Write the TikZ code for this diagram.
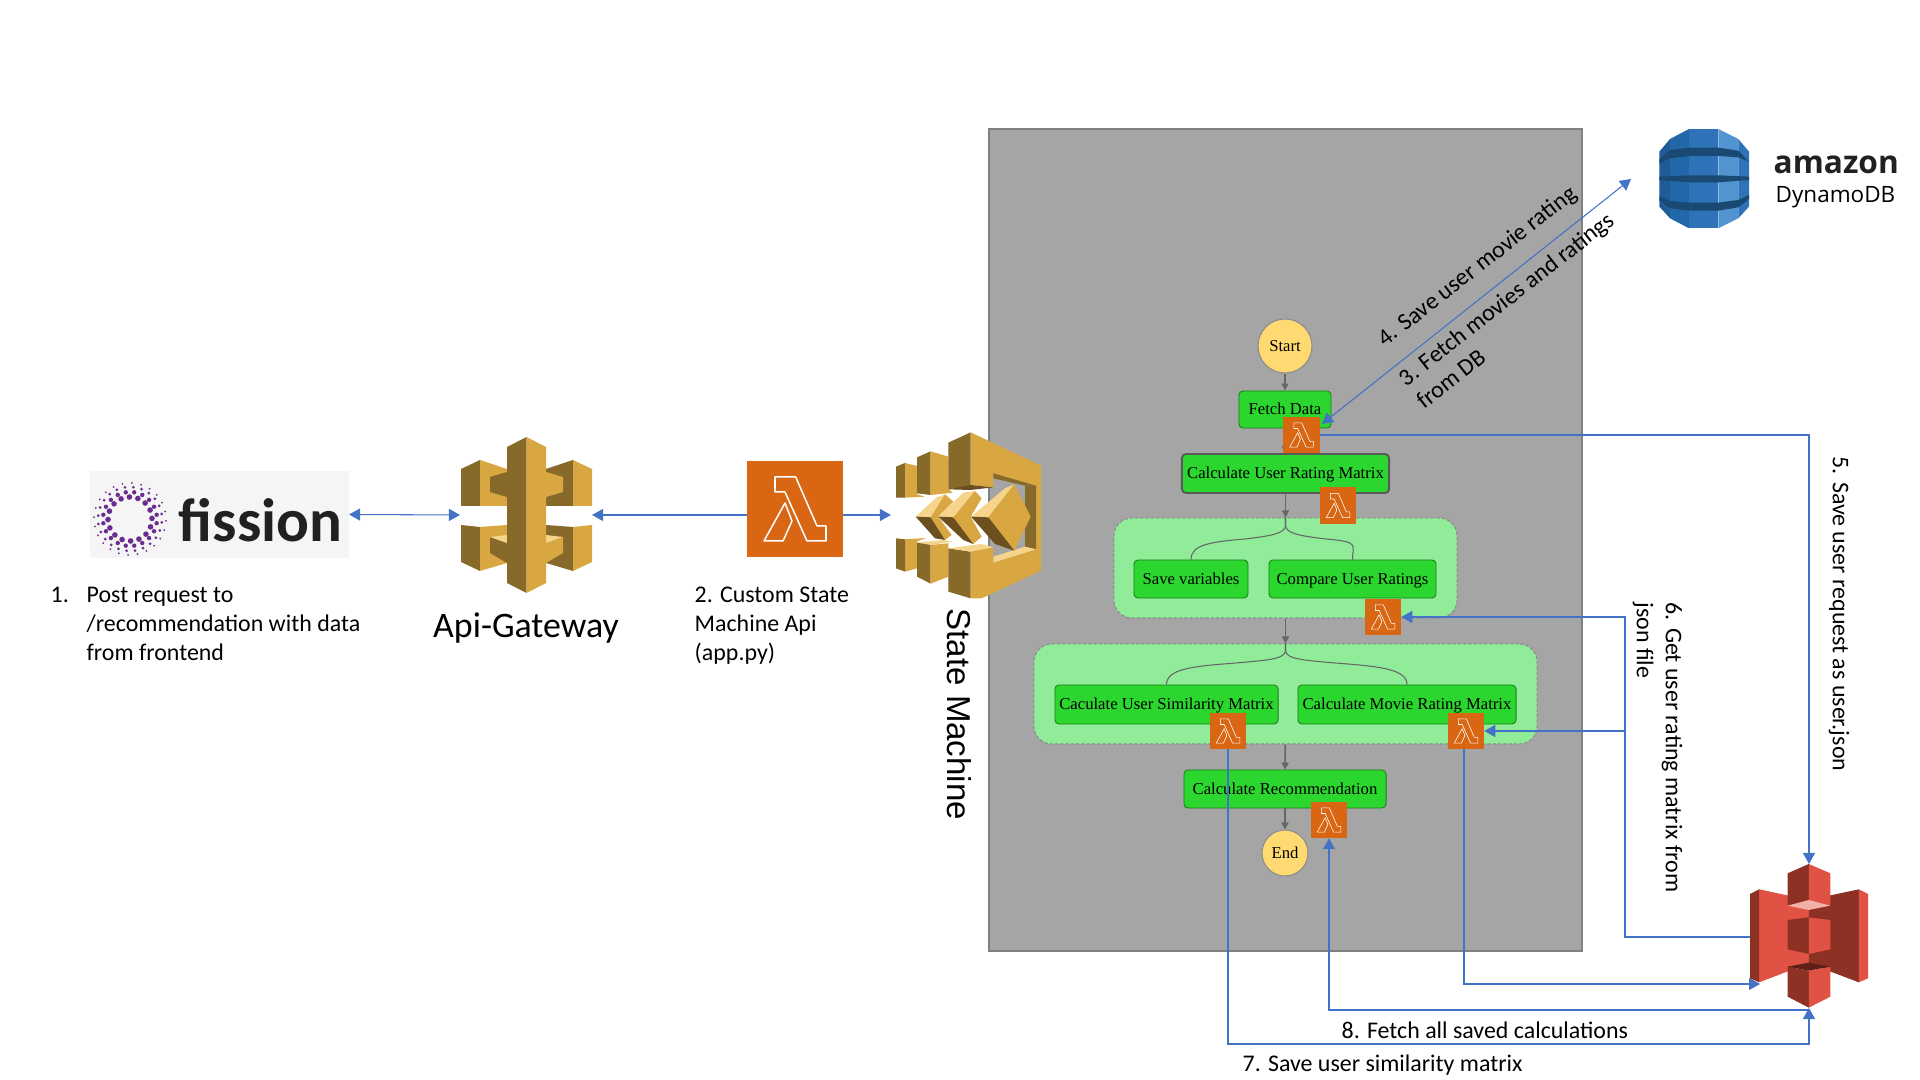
\documentclass[tikz,border=0pt]{standalone}
\usepackage{fontspec}
\setmainfont{Carlito}
\newfontfamily\serffont{Liberation Serif}
\newfontfamily\helvfont{Liberation Sans}
\newfontfamily\logofont{Open Sans}
\usetikzlibrary{arrows.meta}

\definecolor{arrowblue}{HTML}{4472C4}
\definecolor{lambdaorange}{HTML}{D96613}
\definecolor{panelgrey}{HTML}{A5A5A5}
\definecolor{stategreen}{HTML}{2BD62F}
\definecolor{groupgreen}{HTML}{90EC98}
\definecolor{circleyellow}{HTML}{FFD972}
\definecolor{goldlight}{HTML}{D9A741}
\definecolor{golddark}{HTML}{876929}
\definecolor{goldtop}{HTML}{F7D48B}
\definecolor{goldshade}{HTML}{6B4F1E}
\definecolor{s3light}{HTML}{E05243}
\definecolor{s3dark}{HTML}{8C3123}
\definecolor{s3top}{HTML}{F2B0A9}
\definecolor{s3shade}{HTML}{5E1F18}
\definecolor{dbband}{HTML}{1A4A73}
\definecolor{dbedge}{HTML}{1F5B98}
\definecolor{dbleft}{HTML}{2268A9}
\definecolor{dbmid}{HTML}{2E73B8}
\definecolor{dbright}{HTML}{5294CF}
\definecolor{fissionpurple}{HTML}{6A2C91}

\tikzset{
    iconbox/.style={inner sep=0pt, outer sep=0pt},
    flow/.style={draw=arrowblue, line width=0.3pt, -{Triangle[length=0.11cm,width=0.12cm]}},
    flowboth/.style={flow, {Triangle[length=0.11cm,width=0.12cm]}-{Triangle[length=0.11cm,width=0.12cm]}},
    greyflow/.style={draw=black!60, line width=0.45pt, -{Triangle[length=0.07cm,width=0.07cm]}},
    fork/.style={draw=black!60, line width=0.3pt},
    stepnode/.style={draw=black!40!stategreen, fill=stategreen, rounded corners=0.04cm, line width=0.25pt,
        inner sep=0pt, text height=3.6pt, text depth=0.5pt, font=\serffont\fontsize{4.74}{5}\selectfont},
    groupbox/.style={draw=black!45, dashed, dash pattern=on 1pt off 0.5pt, fill=groupgreen, rounded corners=0.18cm,
        line width=0.3pt, inner sep=0pt},
    endpoint/.style={circle, draw=black!45, fill=circleyellow, line width=0.3pt, inner sep=0pt,
        font=\serffont\fontsize{4.74}{5}\selectfont},
    label/.style={inner sep=0pt, align=left, font=\fontsize{6.8}{8.25}\selectfont},
}

% lambda icon: name, x, y, size
\newcommand{\lambdabox}[4]{
    \node[iconbox, fill=lambdaorange, minimum size=#4*0.01cm] (#1) at (#2,#3) {};
    \begin{scope}[shift={(#1.center)}, scale=#4/96, draw=white, line width=#4*0.0045pt, line join=round]
        \draw (-20,-32) -- (0.7,-32) -- (22,17) -- (31,17) -- (31,32) -- (12,32) -- (-10,-17) -- (-20,-17) -- cycle;
        \draw (-10,-6) -- (-31,32) -- (-12,32) -- (-3,12) -- cycle;
    \end{scope}
}

\begin{document}
\begin{tikzpicture}[x=0.01cm, y=-0.01cm]
    \useasboundingbox (0,0) rectangle (1920,1080);

    % fission logo
    \node[iconbox, fill=black!4, minimum width=2.59cm, minimum height=0.87cm] (fission) at (219.5,514.5) {};
    \begin{scope}[shift={(130,519)}]
        \foreach \rad/\cnt/\sz in {22/16/2.8, 27/20/2.2, 32/24/1.5, 36/24/1}
            \foreach \k in {1,...,\cnt}
                \fill[fissionpurple] ({\k*360/\cnt+\rad*3}:\rad) circle[radius=\sz];
    \end{scope}
    \node[anchor=base west, inner sep=0pt, text=black!87, font=\bfseries\fontsize{17.4}{17.4}\selectfont] (fissiontext) at (178,542) {fission};

    % api gateway icon
    \node[iconbox, minimum width=1.32cm, minimum height=1.56cm] (gateway) at (526,515) {};
    \fill[golddark] (461,469) -- (480,460) -- (480,506) -- (461,506) -- cycle;
    \fill[goldlight] (480,460) -- (507,469) -- (507,506) -- (480,506) -- cycle;
    \fill[golddark] (490,477) -- (507,472) -- (507,497) -- (490,492) -- cycle;
    \fill[golddark] (546,469) -- (573,460) -- (573,506) -- (546,506) -- cycle;
    \fill[goldlight] (573,460) -- (592,469) -- (592,506) -- (573,506) -- cycle;
    \fill[goldlight] (546,472) -- (563,477) -- (563,492) -- (546,497) -- cycle;
    \fill[golddark] (461,525) -- (480,527) -- (480,571) -- (461,562) -- cycle;
    \fill[goldlight] (480,527) -- (507,525) -- (507,563) -- (480,571) -- cycle;
    \fill[golddark] (490,537) -- (507,543) -- (507,563) -- (490,553) -- cycle;
    \fill[goldtop] (490,537) -- (507,535) -- (507,543) -- cycle;
    \fill[golddark] (546,525) -- (573,527) -- (573,571) -- (546,563) -- cycle;
    \fill[goldlight] (573,527) -- (592,525) -- (592,562) -- (573,571) -- cycle;
    \fill[goldlight] (546,543) -- (563,537) -- (563,553) -- (546,563) -- cycle;
    \fill[goldtop] (546,535) -- (563,537) -- (546,543) -- cycle;
    \fill[golddark] (507,447) -- (526.5,437) -- (526.5,593) -- (507,583) -- cycle;
    \fill[goldlight] (526.5,437) -- (546,447) -- (546,583) -- (526.5,593) -- cycle;

    \lambdabox{apilambda}{795}{509}{96}

    % state machine panel
    \node[iconbox, draw=black!50, fill=panelgrey, line width=0.55pt, minimum width=5.93cm, minimum height=8.22cm] (panel) at (1285.5,540) {};

    % state machine icon
    \node[iconbox, minimum width=1.5cm, minimum height=1.66cm] (machine) at (966,515) {};
    \begin{scope}[shift={(680,400)}, scale=1/3]
        \fill[golddark] (648,200) -- (675,189) -- (675,293) -- (648,293) -- cycle;
        \fill[goldlight] (675,189) -- (711,198) -- (711,283) -- (735,290) -- (675,293) -- cycle;
        \fill[goldlight] (675,418) -- (738,414) -- (711,424) -- (711,505) -- (675,515) -- cycle;
        \fill[golddark] (648,415) -- (675,418) -- (675,515) -- (648,505) -- cycle;
        \fill[golddark] (711,172) -- (752,154) -- (752,285) -- (711,280) -- cycle;
        \fill[goldlight] (752,154) -- (805,170) -- (805,268) -- (818,278) -- (752,285) -- cycle;
        \fill[goldtop] (711,428) -- (790,420) -- (818,425) -- (752,435) -- cycle;
        \fill[golddark] (711,428) -- (752,435) -- (752,551) -- (711,530) -- cycle;
        \fill[goldlight] (752,435) -- (805,430) -- (805,530) -- (752,551) -- cycle;
        \fill[goldlight] (872,97) -- (1083,197) -- (1083,512) -- (905,595) -- (872,595) -- (872,452) -- (940,442) -- (940,488) -- (1068,448) -- (1068,257) -- (940,220) -- (940,262) -- (872,255) -- cycle;
        \fill[golddark] (940,220) -- (1068,257) -- (1035,257) -- (940,235) -- cycle;
        \fill[golddark] (1035,257) -- (1068,257) -- (1068,448) -- (1035,440) -- cycle;
        \fill[goldtop] (940,470) -- (1035,440) -- (1068,448) -- (940,488) -- cycle;
        \fill[golddark] (805,128) -- (872,97) -- (872,258) -- (805,268) -- cycle;
        \fill[goldshade] (805,268) -- (872,255) -- (940,262) -- (872,270) -- cycle;
        \fill[golddark] (805,445) -- (872,455) -- (872,595) -- (805,575) -- cycle;
        \fill[goldtop] (805,445) -- (905,432) -- (940,442) -- (872,455) -- cycle;
        \fill[goldtop] (707,350) -- (770,292) -- (795,283) -- (752,352) -- cycle;
        \fill[goldlight] (752,352) -- (795,283) -- (820,305) -- (775,350) -- (815,405) -- (795,420) -- cycle;
        \fill[goldshade] (707,350) -- (752,352) -- (795,420) -- (765,415) -- cycle;
        \fill[goldtop] (775,350) -- (850,278) -- (885,273) -- (820,352) -- cycle;
        \fill[goldlight] (820,352) -- (885,273) -- (905,295) -- (872,350) -- (905,410) -- (880,432) -- cycle;
        \fill[goldshade] (775,350) -- (820,352) -- (880,432) -- (850,420) -- cycle;
        \fill[goldtop] (873,350) -- (975,265) -- (1003,253) -- (925,352) -- cycle;
        \fill[goldlight] (925,352) -- (1003,253) -- (1052,350) -- (1003,452) -- cycle;
        \fill[goldshade] (873,350) -- (925,352) -- (1003,452) -- (945,432) -- cycle;
    \end{scope}

    % dynamodb icon
    \node[iconbox, minimum width=0.9cm, minimum height=0.99cm] (dynamo) at (1704,178.5) {};
    \begin{scope}[shift={(1600,100)}, scale=1/3]
        \fill[dbedge] (178,155) -- (210,117) -- (210,355) -- (178,320) -- cycle;
        \fill[dbleft] (210,117) -- (267,87) -- (267,385) -- (210,355) -- cycle;
        \fill[dbmid] (267,87) -- (355,87) -- (355,385) -- (267,385) -- cycle;
        \fill[dbright] (355,87) -- (415,117) -- (415,355) -- (355,385) -- cycle;
        \fill[dbmid] (415,117) -- (447,155) -- (447,320) -- (415,355) -- cycle;
        \fill[dbband] (178,178) -- (210,150) -- (267,143) -- (355,143) -- (415,152) -- (447,185) -- (415,172) -- (355,168) -- (267,168) -- (210,175) -- (178,190) -- cycle;
        \fill[dbband] (178,230) -- (267,226) -- (355,226) -- (447,230) -- (447,240) -- (355,247) -- (267,247) -- (178,240) -- cycle;
        \fill[dbband] (178,290) -- (210,303) -- (267,308) -- (355,308) -- (415,300) -- (447,285) -- (447,297) -- (415,322) -- (355,332) -- (267,332) -- (210,325) -- (178,302) -- cycle;
    \end{scope}
    \node[anchor=base west, inner sep=0pt, text=black!87, font=\logofont\bfseries\fontsize{9}{10}\selectfont] (amazon) at (1773,174) {amazon};
    \node[anchor=base west, inner sep=0pt, font=\logofont\fontsize{6.4}{7}\selectfont] (dynamotext) at (1775,203) {DynamoDB};

    % s3 icon
    \node[iconbox, minimum width=1.18cm, minimum height=1.44cm] (bucket) at (1809,936) {};
    \begin{scope}[shift={(1200,840)}, xscale=1/2.178, yscale=1/3]
        \fill[s3light] (1218,148) -- (1326,180) -- (1326,370) -- (1218,427) -- cycle;
        \fill[s3dark] (1198,162) -- (1218,148) -- (1218,427) -- (1198,415) -- cycle;
        \fill[s3dark] (1326,180) -- (1435,148) -- (1435,427) -- (1326,370) -- cycle;
        \fill[s3light] (1435,148) -- (1455,162) -- (1455,415) -- (1435,427) -- cycle;
        \fill[s3dark] (1280,100) -- (1326,72) -- (1326,195) -- (1280,195) -- cycle;
        \fill[s3light] (1326,72) -- (1373,100) -- (1373,195) -- (1326,195) -- cycle;
        \fill[s3top] (1280,197) -- (1326,180) -- (1373,197) -- (1326,210) -- cycle;
        \fill[s3dark] (1280,240) -- (1326,232) -- (1326,342) -- (1280,328) -- cycle;
        \fill[s3light] (1326,232) -- (1373,240) -- (1373,328) -- (1326,342) -- cycle;
        \fill[s3dark] (1280,380) -- (1326,392) -- (1326,503) -- (1280,470) -- cycle;
        \fill[s3light] (1326,392) -- (1373,380) -- (1373,470) -- (1326,503) -- cycle;
        \fill[s3shade] (1280,380) -- (1326,368) -- (1373,380) -- (1326,392) -- cycle;
    \end{scope}

    % workflow inside the panel
    \node[endpoint, minimum size=0.54cm] (start) at (1285,346) {Start};
    \node[stepnode, minimum width=0.92cm, minimum height=0.37cm] (fetch) at (1285,409.5) {Fetch Data};
    \node[stepnode, draw=black!65, line width=0.55pt, minimum width=2.07cm, minimum height=0.39cm] (rating) at (1285.5,473.5) {Calculate User Rating Matrix};
    \node[groupbox, minimum width=3.43cm, minimum height=1cm] (group1) at (1285.5,568) {};
    \node[stepnode, minimum width=1.14cm, minimum height=0.38cm] (savevars) at (1191,579) {Save variables};
    \node[stepnode, minimum width=1.67cm, minimum height=0.38cm] (compare) at (1352.5,579) {Compare User Ratings};
    \node[groupbox, minimum width=5.03cm, minimum height=1cm] (group2) at (1285.5,694) {};
    \node[stepnode, minimum width=2.23cm, minimum height=0.39cm] (similarity) at (1166.5,704.5) {Caculate User Similarity Matrix};
    \node[stepnode, minimum width=2.18cm, minimum height=0.39cm] (movie) at (1407,704.5) {Calculate Movie Rating Matrix};
    \node[stepnode, minimum width=2.02cm, minimum height=0.38cm] (recommend) at (1285,789) {Calculate Recommendation};
    \node[endpoint, minimum size=0.46cm] (finish) at (1285,853) {End};

    \draw[greyflow] (start) -- (fetch);
    \draw[greyflow] (fetch) -- (rating);
    \draw[greyflow] (rating) -- (group1);
    \draw[greyflow] (group1) -- (group2);
    \draw[greyflow] (group2) -- (recommend);
    \draw[greyflow] (recommend) -- (finish);
    \draw[fork] (group1.north) -- ++(0,8) .. controls +(0,8) and +(25,-3) .. ++(-40,13.5) .. controls +(-35,3) and +(0,-15) .. (savevars.north);
    \draw[fork] (group1.north) -- ++(0,8) .. controls +(0,8) and +(-25,-3) .. ++(40,13.5) .. controls +(35,3) and +(0,-15) .. (compare.north);
    \draw[fork] (group2.north) -- ++(0,7) .. controls +(0,9) and +(35,-3) .. ++(-55,13) .. controls +(-40,3) and +(0,-15) .. (similarity.north);
    \draw[fork] (group2.north) -- ++(0,7) .. controls +(0,9) and +(-35,-3) .. ++(55,13) .. controls +(40,3) and +(0,-15) .. (movie.north);

    \lambdabox{lambda1}{1301.5}{435}{36.5}
    \lambdabox{lambda2}{1338}{505.5}{36.5}
    \lambdabox{lambda3}{1383}{617}{36.5}
    \lambdabox{lambda4}{1228}{731}{36.5}
    \lambdabox{lambda5}{1466}{731}{36.5}
    \lambdabox{lambda6}{1329}{820}{36.5}

    % free ends of connectors
    \coordinate (dbnear) at (1322,424);
    \coordinate (dbfar) at (1631,179);
    \coordinate (bucketout) at (1750,937);
    \coordinate (bend3) at (1625,617);
    \coordinate (branch5) at (1625,731);
    \coordinate (bucketleft) at (1760,984);
    \coordinate (route5) at (1464,749.25);
    \coordinate (route8) at (1809,1010);
    \coordinate (route7) at (1809,1044);

    \draw[flowboth] (fission.east) -- (gateway.west);
    \draw[flow] (apilambda.west |- gateway.east) -- (gateway.east);
    \draw[flow] (apilambda.east |- machine.west) -- (machine.west);
    \draw[flowboth] (dbnear) -- (dbfar);
    \draw[flow] (lambda1.east) -| (bucket.north);
    \draw[flow] (bucketout) -| (bend3) -- (lambda3.east);
    \draw[flow] (branch5) -- (lambda5.east);
    \draw[flow] (route5) |- (bucketleft);
    \draw[flow] (route8) -| (lambda6.south);
    \draw[flow] (lambda4.south) |- (route7) -- (bucket.south);

    % captions
    \node[label, anchor=north west] (step1num) at (50,586.5) {1.};
    \node[label, anchor=north west] (step1) at (86,586.5) {Post request to\\/recommendation with data\\from frontend};
    \node[inner sep=0pt, font=\fontsize{10.2}{12}\selectfont] (gatewaytext) at (526,628) {Api-Gateway};
    \node[label, anchor=north west] (step2) at (694,586.5) {2. Custom State\\Machine Api\\(app.py)};
    \node[inner sep=0pt, rotate=-90, anchor=west, font=\helvfont\fontsize{9.4}{10}\selectfont] (machinetext) at (959,608) {State Machine};
    \node[label, rotate=38, anchor=west] (step4) at (1381,343) {4. Save user movie rating};
    \node[label, rotate=38, anchor=west] (step3) at (1410,392.5) {3. Fetch movies and ratings\\from DB};
    \node[label, rotate=-90, anchor=west] (step5) at (1839,456) {5. Save user request as user.json};
    \node[label, rotate=-90, anchor=north west] (step6) at (1683,602) {6. Get user rating matrix from\\json file};
    \node[label, anchor=west] (step8) at (1341,1030) {8. Fetch all saved calculations};
    \node[label, anchor=west] (step7) at (1242,1065.5) {7. Save user similarity matrix};
\end{tikzpicture}
\end{document}
